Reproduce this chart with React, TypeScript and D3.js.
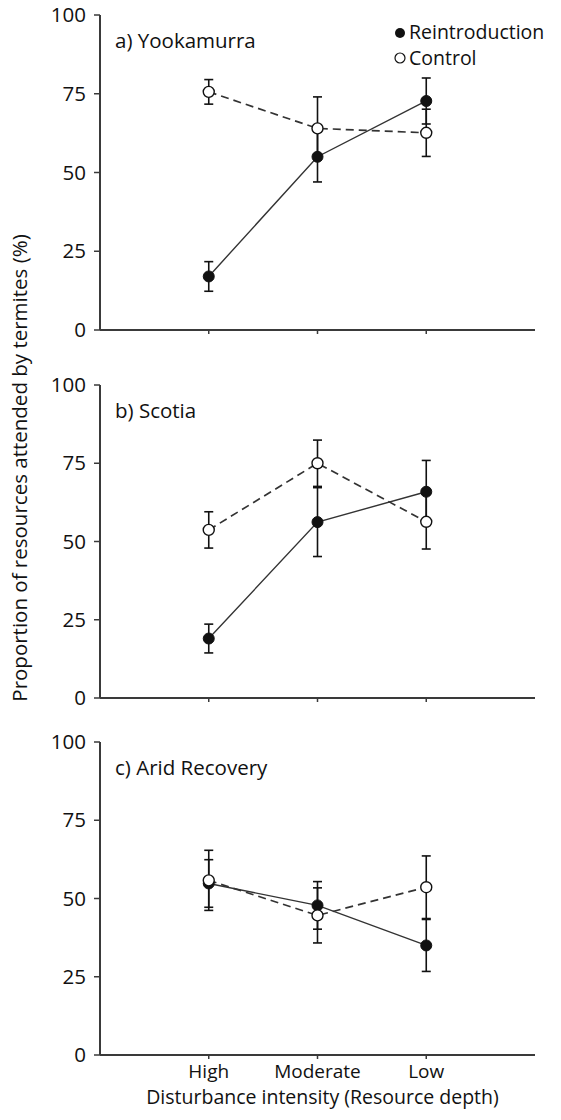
import React, { useEffect } from "react";
import * as d3 from "d3";

// ---------- data ----------
const categories = ["High", "Moderate", "Low"];
const yTicks = [0, 25, 50, 75, 100];
const panelTitles = ["a) Yookamurra", "b) Scotia", "c) Arid Recovery"];
const seriesNames = ["Reintroduction", "Control"];

// means per panel (High, Moderate, Low)
const reintroA = [17, 55, 72.7];
const reintroAErr = [4.7, 8, 7.3];
const controlA = [75.6, 64, 62.6];
const controlAErr = [3.9, 10, 7.5];

const reintroB = [19, 56.2, 65.9];
const reintroBErr = [4.6, 11, 10];
const controlB = [53.7, 75, 56.3];
const controlBErr = [5.8, 7.4, 8.7];

const reintroC = [54.8, 47.8, 35];
const reintroCErr = [7.6, 7.6, 8.3];
const controlC = [55.8, 44.6, 53.6];
const controlCErr = [9.6, 8.8, 10];

const panels = [
  { title: panelTitles[0], r: reintroA, rErr: reintroAErr, c: controlA, cErr: controlAErr },
  { title: panelTitles[1], r: reintroB, rErr: reintroBErr, c: controlB, cErr: controlBErr },
  { title: panelTitles[2], r: reintroC, rErr: reintroCErr, c: controlC, cErr: controlCErr },
];

// ---------- layout ----------
const W = 561;
const H = 1120;
const axisLeft = 100;
const axisRight = 535;
const panelTops = [15, 385, 742];
const panelBottoms = [330, 698, 1055];
const FONT = "'Open Sans', 'Noto Sans', sans-serif";
const FS = 20.5;
const AXIS_COLOR = "#3a3a3a";
const INK = "#111";

const x = d3.scaleLinear().domain([0, 4]).range([axisLeft, axisRight]);

function Panel({ idx }: { idx: number }) {
  const p = panels[idx];
  const y = d3.scaleLinear().domain([0, 100]).range([panelBottoms[idx], panelTops[idx]]);
  const line = d3
    .line<number>()
    .x((_, i) => x(i + 1))
    .y((v) => y(v));

  const errBars = (vals: number[], errs: number[], key: string) =>
    vals.map((v, i) => {
      const cx = x(i + 1);
      const y1 = y(v + errs[i]);
      const y2 = y(v - errs[i]);
      return (
        <g key={key + i} stroke={INK} strokeWidth={1.6}>
          <line x1={cx} x2={cx} y1={y1} y2={y2} />
          <line x1={cx - 4.5} x2={cx + 4.5} y1={y1} y2={y1} />
          <line x1={cx - 4.5} x2={cx + 4.5} y1={y2} y2={y2} />
        </g>
      );
    });

  return (
    <g>
      {/* y axis */}
      <line x1={axisLeft} x2={axisLeft} y1={y(100)} y2={y(0)} stroke={AXIS_COLOR} strokeWidth={2} />
      {yTicks.map((t) => (
        <g key={"yt" + t}>
          <line x1={axisLeft - 6} x2={axisLeft} y1={y(t)} y2={y(t)} stroke={AXIS_COLOR} strokeWidth={1.5} />
          <text
            x={axisLeft - 14}
            y={y(t)}
            dy="0.35em"
            textAnchor="end"
            fontFamily={FONT}
            fontSize={FS}
            fill={INK}
          >
            {t}
          </text>
        </g>
      ))}
      {/* x axis */}
      <line x1={axisLeft} x2={axisRight} y1={y(0)} y2={y(0)} stroke={AXIS_COLOR} strokeWidth={2} />
      {categories.map((c, i) => (
        <line
          key={"xt" + c}
          x1={x(i + 1)}
          x2={x(i + 1)}
          y1={y(0)}
          y2={y(0) + 4}
          stroke={AXIS_COLOR}
          strokeWidth={1.5}
        />
      ))}
      {/* title */}
      <text x={115} y={panelTops[idx] + 33} fontFamily={FONT} fontSize={FS} fill={INK}>
        {p.title}
      </text>
      {/* lines */}
      <path d={line(p.r) || ""} fill="none" stroke="#333" strokeWidth={1.4} />
      <path d={line(p.c) || ""} fill="none" stroke="#333" strokeWidth={1.7} strokeDasharray="8,5" />
      {/* error bars */}
      {errBars(p.r, p.rErr, "re")}
      {errBars(p.c, p.cErr, "ce")}
      {/* markers */}
      {p.r.map((v, i) => (
        <circle key={"rm" + i} cx={x(i + 1)} cy={y(v)} r={5.5} fill={INK} stroke={INK} strokeWidth={1} />
      ))}
      {p.c.map((v, i) => (
        <circle key={"cm" + i} cx={x(i + 1)} cy={y(v)} r={5.5} fill="#fff" stroke={INK} strokeWidth={1.4} />
      ))}
    </g>
  );
}

export default function App() {
  useEffect(() => {
    document.body.style.margin = "0";
  }, []);
  const lastBottom = panelBottoms[2];
  return (
    <svg width={W} height={H} style={{ display: "block", background: "#fff" }}>
      <rect x={0} y={0} width={W} height={H} fill="#fff" />
      {panels.map((_, i) => (
        <Panel key={i} idx={i} />
      ))}
      {/* legend */}
      <circle cx={400} cy={33} r={5} fill={INK} />
      <text x={409} y={39} fontFamily={FONT} fontSize={19.5} fill={INK}>
        {seriesNames[0]}
      </text>
      <circle cx={400} cy={58} r={5} fill="#fff" stroke={INK} strokeWidth={1.2} />
      <text x={409} y={65} fontFamily={FONT} fontSize={19.5} fill={INK}>
        {seriesNames[1]}
      </text>
      {/* x tick labels */}
      {categories.map((c, i) => (
        <text
          key={"xl" + c}
          x={x(i + 1)}
          y={lastBottom + 23}
          textAnchor="middle"
          fontFamily={FONT}
          fontSize={19}
          fill={INK}
        >
          {c}
        </text>
      ))}
      <text
        x={x(2) + 5}
        y={lastBottom + 49}
        textAnchor="middle"
        fontFamily={FONT}
        fontSize={19.5}
        fill={INK}
      >
        Disturbance intensity (Resource depth)
      </text>
      <text
        transform={`translate(27, 468) rotate(-90)`}
        textAnchor="middle"
        fontFamily={FONT}
        fontSize={FS}
        fill={INK}
      >
        Proportion of resources attended by termites (%)
      </text>
    </svg>
  );
}
